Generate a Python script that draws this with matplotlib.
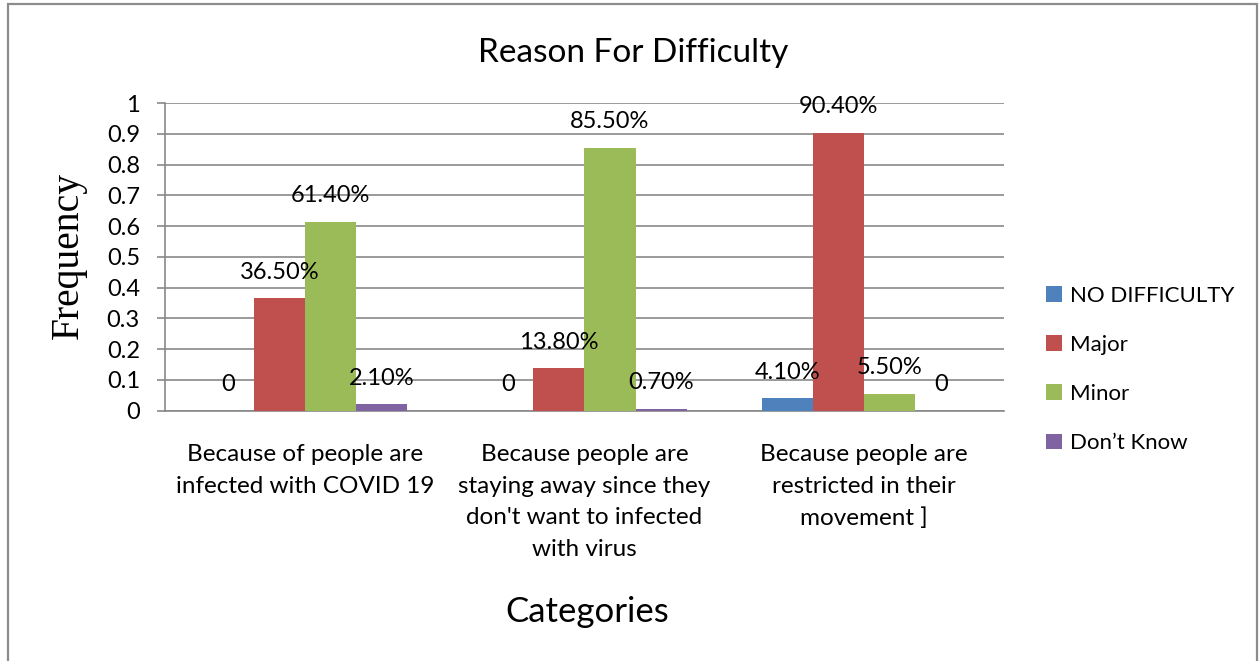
import matplotlib
matplotlib.use("Agg")
import matplotlib.pyplot as plt
from matplotlib.patches import Rectangle, Patch
import numpy as np

categories = [
    "Because of people are\ninfected with COVID 19",
    "Because people are\nstaying away since they\ndon't want to infected\nwith virus",
    "Because people are\nrestricted in their\nmovement ]",
]
series_names = ["NO DIFFICULTY", "Major", "Minor", "Don\u2019t Know"]
no_difficulty = [0.0, 0.0, 0.041]
major = [0.365, 0.138, 0.904]
minor = [0.614, 0.855, 0.055]
dont_know = [0.021, 0.007, 0.0]
point_labels = [
    ["0", "0", "4.10%"],
    ["36.50%", "13.80%", "90.40%"],
    ["61.40%", "85.50%", "5.50%"],
    ["2.10%", "0.70%", "0"],
]
yticks = [0, 0.1, 0.2, 0.3, 0.4, 0.5, 0.6, 0.7, 0.8, 0.9, 1]
ytick_labels = ["0", "0.1", "0.2", "0.3", "0.4", "0.5", "0.6", "0.7", "0.8", "0.9", "1"]

colors = ["#4F81BD", "#C0504D", "#9BBB59", "#8064A2"]
grid_gray = "#898989"
FONT = ["Lato", "DejaVu Sans"]

W, H = 1259, 661
fig = plt.figure(figsize=(W / 100, H / 100), dpi=100)
fig.patch.set_facecolor("white")

# outer chart frame
fig.add_artist(Rectangle((8 / W, -0.05), (1257 - 8) / W, 1.05 - 4 / H,
                         transform=fig.transFigure, fill=False,
                         edgecolor="#8c8c8c", linewidth=1.6))

ax = fig.add_axes([165 / W, 1 - 410.7 / H, (1004 - 165) / W, (410.7 - 103) / H])

x = np.arange(len(categories))
bw = 0.1824
all_series = [no_difficulty, major, minor, dont_know]
for i, (vals, col, name) in enumerate(zip(all_series, colors, series_names)):
    pos = x + (i - 1.5) * bw
    ax.bar(pos, vals, width=bw, color=col, label=name, zorder=3, linewidth=0)
    for px, v, lab in zip(pos, vals, point_labels[i]):
        ax.annotate(lab, (px, v), xytext=(0, 26), textcoords="offset pixels",
                    ha="center", va="center", fontsize=17, family=FONT,
                    color="black", zorder=5)

ax.set_xlim(-0.5, len(categories) - 0.5)
ax.set_ylim(0, 1)
ax.set_yticks(yticks)
ax.set_yticklabels(ytick_labels, family=FONT, fontsize=17)
ax.yaxis.grid(True, color=grid_gray, linewidth=1.2, zorder=0)
ax.set_axisbelow(True)
ax.tick_params(axis="y", length=6, width=1.2, color=grid_gray, pad=12)

ax.set_xticks(x)
ax.set_xticklabels(categories, family=FONT, fontsize=17.5, linespacing=1.62)
ax.tick_params(axis="x", length=0, pad=24)

for s in ["top", "right"]:
    ax.spines[s].set_visible(False)
for s in ["left", "bottom"]:
    ax.spines[s].set_color(grid_gray)
    ax.spines[s].set_linewidth(1.2)

fig.text(633 / W, 1 - 62 / H, "Reason For Difficulty", ha="center", va="baseline",
         fontsize=24, family=FONT)
fig.text(587 / W, 1 - 622 / H, "Categories", ha="center", va="baseline",
         fontsize=25, family=FONT)
fig.text(68 / W, 1 - 255.5 / H, "Frequency", ha="center", va="center", rotation=90,
         fontsize=28.5, family=["Liberation Serif", "DejaVu Serif"])

handles = [Patch(facecolor=c, edgecolor="none") for c in colors]
fig.legend(handles, series_names, loc="center left",
           bbox_to_anchor=(1026 / W, 1 - 369.5 / H), frameon=False,
           prop={"family": FONT, "size": 16}, handlelength=0.72, handleheight=0.72,
           handletextpad=0.35, labelspacing=1.315)

fig.savefig("out.png", dpi=100)
